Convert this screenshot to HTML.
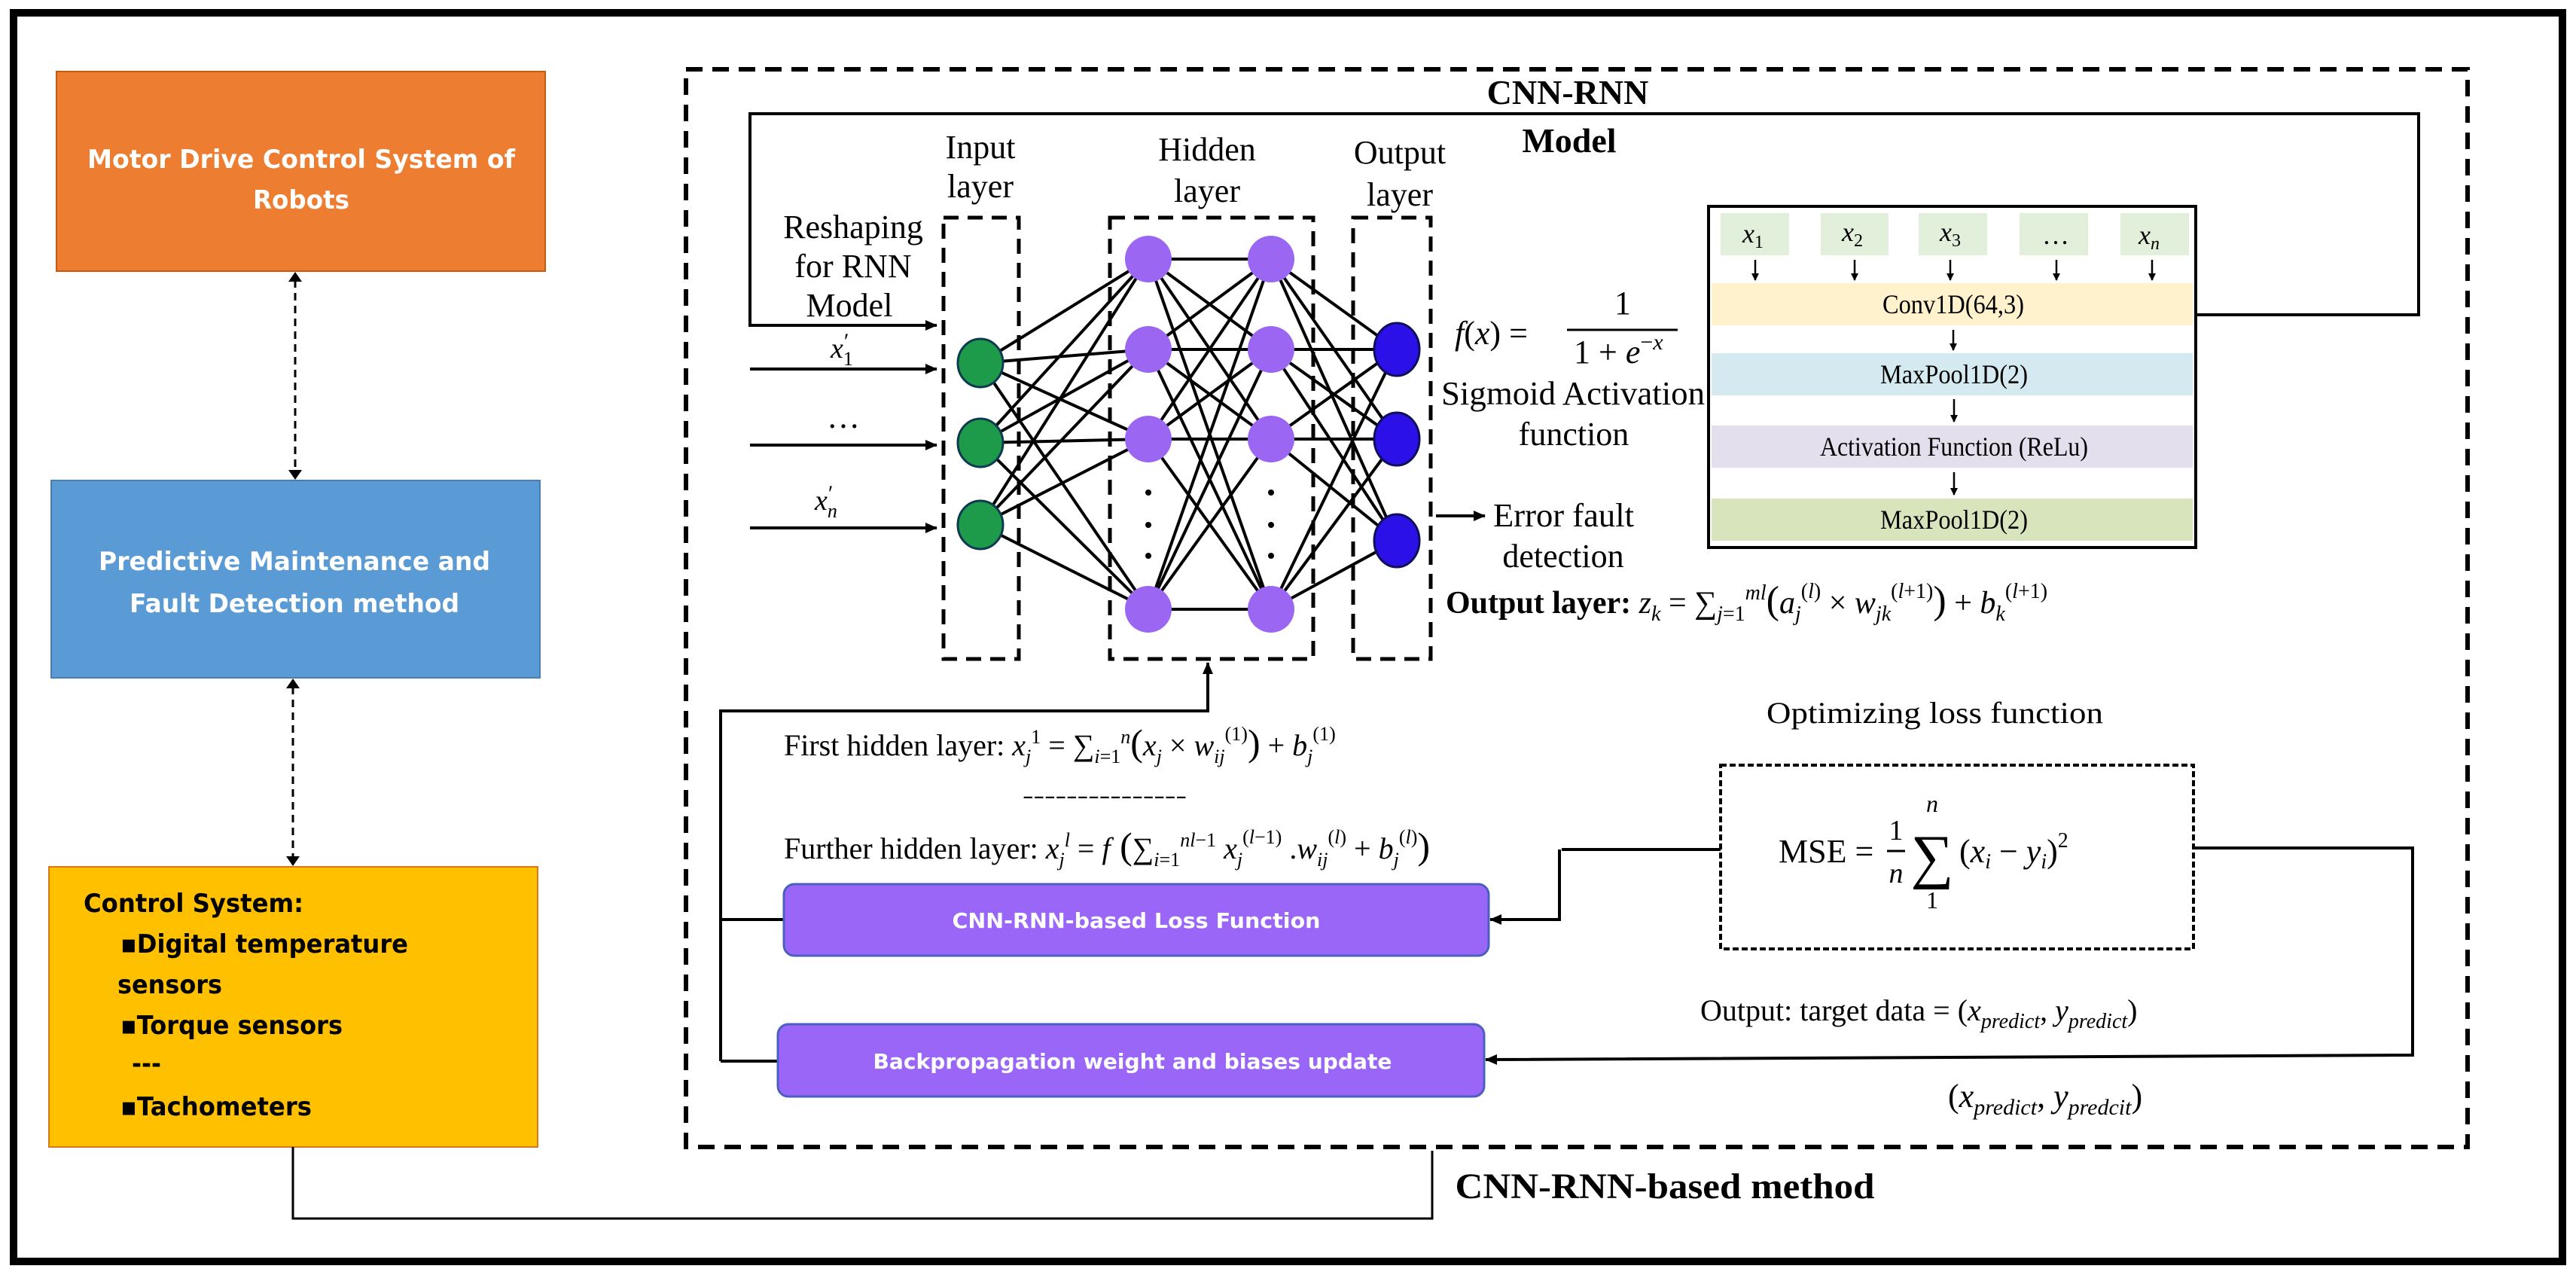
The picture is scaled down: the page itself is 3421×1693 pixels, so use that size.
<!DOCTYPE html>
<html><head><meta charset="utf-8"><style>
html,body{margin:0;padding:0;background:#fff;}
svg{display:block;}
.serif{font-family:"Liberation Serif",serif;}
.sans{font-family:"DejaVu Sans","Liberation Sans",sans-serif;font-weight:bold;}
</style></head><body>
<svg width="3421" height="1693" viewBox="0 0 3421 1693" xmlns="http://www.w3.org/2000/svg">
<defs>
<marker id="ar" markerWidth="10" markerHeight="10" refX="9" refY="5" orient="auto" markerUnits="userSpaceOnUse"><path d="M0,0 L10,5 L0,10 z" fill="#000"/></marker>
<marker id="arS" markerWidth="16" markerHeight="14" refX="15" refY="7" orient="auto" markerUnits="userSpaceOnUse"><path d="M0,0 L16,7 L0,14 z" fill="#000"/></marker>
</defs>
<rect x="0" y="0" width="3421" height="1693" fill="#fff"/>
<rect x="18" y="17" width="3385" height="1658" fill="none" stroke="#000" stroke-width="10"/>

<rect x="75" y="95" width="649" height="265" fill="#ED7D31" stroke="#c55a11" stroke-width="2"/>
<text class="sans" font-size="34" fill="#fff" text-anchor="middle" x="400" y="223" textLength="568" lengthAdjust="spacingAndGlyphs">Motor Drive Control System of</text>
<text class="sans" font-size="34" fill="#fff" text-anchor="middle" x="400" y="277" textLength="128" lengthAdjust="spacingAndGlyphs">Robots</text>

<rect x="68" y="638" width="649" height="262" fill="#5B9BD5" stroke="#4a7fb5" stroke-width="2"/>
<text class="sans" font-size="34" fill="#fff" text-anchor="middle" x="391" y="757" textLength="520" lengthAdjust="spacingAndGlyphs">Predictive Maintenance and</text>
<text class="sans" font-size="34" fill="#fff" text-anchor="middle" x="391" y="813" textLength="438" lengthAdjust="spacingAndGlyphs">Fault Detection method</text>

<rect x="65" y="1151" width="649" height="372" fill="#FFC000" stroke="#d87a1a" stroke-width="2"/>
<g class="sans" font-size="34" fill="#000">
<text x="111" y="1211" textLength="292" lengthAdjust="spacingAndGlyphs">Control System:</text>
<text x="160" y="1265" textLength="382" lengthAdjust="spacingAndGlyphs">▪Digital temperature</text>
<text x="156" y="1319" textLength="139" lengthAdjust="spacingAndGlyphs">sensors</text>
<text x="160" y="1373" textLength="295" lengthAdjust="spacingAndGlyphs">▪Torque sensors</text>
<text x="175" y="1424" textLength="39" lengthAdjust="spacingAndGlyphs">---</text>
<text x="160" y="1481" textLength="254" lengthAdjust="spacingAndGlyphs">▪Tachometers</text>
</g>

<line x1="392" y1="372" x2="392" y2="626" stroke="#000" stroke-width="3" stroke-dasharray="10,7"/>
<path d="M383,374 L392,361 L401,374 z" fill="#000"/>
<path d="M383,624 L392,637 L401,624 z" fill="#000"/>
<line x1="389" y1="912" x2="389" y2="1139" stroke="#000" stroke-width="3" stroke-dasharray="10,7"/>
<path d="M380,914 L389,901 L398,914 z" fill="#000"/>
<path d="M380,1137 L389,1150 L398,1137 z" fill="#000"/>

<polyline points="389,1523 389,1618 1902,1618 1902,1528" fill="none" stroke="#000" stroke-width="3"/>

<rect x="911" y="92" width="2366" height="1431" fill="none" stroke="#000" stroke-width="6" stroke-dasharray="22,13"/>

<g class="serif" font-weight="bold" fill="#000">
<text x="2082" y="138" font-size="46" text-anchor="middle">CNN-RNN</text>
<text x="2084" y="202" font-size="46" text-anchor="middle">Model</text>
<text x="2211" y="1591" font-size="48" text-anchor="middle" textLength="557" lengthAdjust="spacingAndGlyphs">CNN-RNN-based method</text>
</g>

<polyline points="2916,418 3212,418 3212,151 996,151 996,432 1244,432" fill="none" stroke="#000" stroke-width="4" marker-end="url(#arS)"/>

<line x1="996" y1="490" x2="1244" y2="490" stroke="#000" stroke-width="4" marker-end="url(#arS)"/>
<line x1="996" y1="591" x2="1244" y2="591" stroke="#000" stroke-width="4" marker-end="url(#arS)"/>
<line x1="996" y1="701" x2="1244" y2="701" stroke="#000" stroke-width="4" marker-end="url(#arS)"/>

<g class="serif" fill="#000" font-size="44" text-anchor="middle">
<text x="1133" y="316">Reshaping</text>
<text x="1133" y="368">for RNN</text>
<text x="1128" y="420">Model</text>
<text x="1302" y="210">Input</text>
<text x="1302" y="262">layer</text>
<text x="1603" y="213">Hidden</text>
<text x="1603" y="268">layer</text>
<text x="1859" y="217">Output</text>
<text x="1859" y="273">layer</text>
<text x="1120" y="568">…</text>
</g>
<g class="serif" fill="#000" font-size="38" font-style="italic">
<text x="1103" y="475">x<tspan font-size="26" dy="10" font-style="normal">1</tspan><tspan font-size="30" dx="-12" dy="-22" font-style="normal">′</tspan></text>
<text x="1082" y="677">x<tspan font-size="26" dy="10">n</tspan><tspan font-size="30" dx="-12" dy="-22" font-style="normal">′</tspan></text>
</g>

<g fill="none" stroke="#000" stroke-width="5" stroke-dasharray="20,12">
<rect x="1253" y="289" width="100" height="586"/>
<rect x="1474" y="289" width="270" height="586"/>
<rect x="1797" y="289" width="103" height="586"/>
</g>

<g stroke="#000" stroke-width="4">
<line x1="1302" y1="482" x2="1525" y2="344"/><line x1="1302" y1="482" x2="1525" y2="464"/><line x1="1302" y1="482" x2="1525" y2="583"/><line x1="1302" y1="482" x2="1525" y2="809"/>
<line x1="1302" y1="588" x2="1525" y2="344"/><line x1="1302" y1="588" x2="1525" y2="464"/><line x1="1302" y1="588" x2="1525" y2="583"/><line x1="1302" y1="588" x2="1525" y2="809"/>
<line x1="1302" y1="697" x2="1525" y2="344"/><line x1="1302" y1="697" x2="1525" y2="464"/><line x1="1302" y1="697" x2="1525" y2="583"/><line x1="1302" y1="697" x2="1525" y2="809"/>
<line x1="1525" y1="344" x2="1688" y2="344"/><line x1="1525" y1="344" x2="1688" y2="464"/><line x1="1525" y1="344" x2="1688" y2="583"/><line x1="1525" y1="344" x2="1688" y2="809"/>
<line x1="1525" y1="464" x2="1688" y2="344"/><line x1="1525" y1="464" x2="1688" y2="464"/><line x1="1525" y1="464" x2="1688" y2="583"/><line x1="1525" y1="464" x2="1688" y2="809"/>
<line x1="1525" y1="583" x2="1688" y2="344"/><line x1="1525" y1="583" x2="1688" y2="464"/><line x1="1525" y1="583" x2="1688" y2="583"/><line x1="1525" y1="583" x2="1688" y2="809"/>
<line x1="1525" y1="809" x2="1688" y2="344"/><line x1="1525" y1="809" x2="1688" y2="464"/><line x1="1525" y1="809" x2="1688" y2="583"/><line x1="1525" y1="809" x2="1688" y2="809"/>
<line x1="1688" y1="344" x2="1855" y2="464"/><line x1="1688" y1="344" x2="1855" y2="583"/><line x1="1688" y1="344" x2="1855" y2="718"/>
<line x1="1688" y1="464" x2="1855" y2="464"/><line x1="1688" y1="464" x2="1855" y2="583"/><line x1="1688" y1="464" x2="1855" y2="718"/>
<line x1="1688" y1="583" x2="1855" y2="464"/><line x1="1688" y1="583" x2="1855" y2="583"/><line x1="1688" y1="583" x2="1855" y2="718"/>
<line x1="1688" y1="809" x2="1855" y2="464"/><line x1="1688" y1="809" x2="1855" y2="583"/><line x1="1688" y1="809" x2="1855" y2="718"/>
</g>

<g fill="#1e9a4b" stroke="#0e3a50" stroke-width="3">
<ellipse cx="1302" cy="482" rx="30" ry="32"/><ellipse cx="1302" cy="588" rx="30" ry="32"/><ellipse cx="1302" cy="697" rx="30" ry="32"/>
</g>
<g fill="#9a66f2">
<circle cx="1525" cy="344" r="31"/><circle cx="1525" cy="464" r="31"/><circle cx="1525" cy="583" r="31"/><circle cx="1525" cy="809" r="31"/>
<circle cx="1688" cy="344" r="31"/><circle cx="1688" cy="464" r="31"/><circle cx="1688" cy="583" r="31"/><circle cx="1688" cy="809" r="31"/>
</g>
<g fill="#000">
<circle cx="1525" cy="654" r="4"/><circle cx="1525" cy="697" r="4"/><circle cx="1525" cy="738" r="4"/>
<circle cx="1688" cy="654" r="4"/><circle cx="1688" cy="697" r="4"/><circle cx="1688" cy="738" r="4"/>
</g>
<g fill="#2c10e8" stroke="#10105a" stroke-width="3">
<ellipse cx="1855" cy="464" rx="30" ry="35"/><ellipse cx="1855" cy="583" rx="30" ry="35"/><ellipse cx="1855" cy="718" rx="30" ry="35"/>
</g>

<g class="serif" fill="#000" font-size="44">
<text x="1932" y="457"><tspan font-style="italic">f</tspan>(<tspan font-style="italic">x</tspan>) =</text>
<text x="2155" y="417" text-anchor="middle">1</text>
<line x1="2081" y1="438" x2="2228" y2="438" stroke="#000" stroke-width="3"/>
<text x="2090" y="482">1 + <tspan font-style="italic">e</tspan><tspan font-size="30" dy="-18">−<tspan font-style="italic">x</tspan></tspan></text>
<text x="1914" y="537" textLength="350" lengthAdjust="spacingAndGlyphs">Sigmoid Activation</text>
<text x="2090" y="591" text-anchor="middle">function</text>
<text x="1983" y="699" textLength="187" lengthAdjust="spacingAndGlyphs">Error fault</text>
<text x="2076" y="753" text-anchor="middle">detection</text>
</g>
<line x1="1907" y1="685" x2="1972" y2="685" stroke="#000" stroke-width="4" marker-end="url(#arS)"/>

<text class="serif" x="1920" y="814" font-size="42" fill="#000"><tspan font-weight="bold">Output layer:</tspan> <tspan font-style="italic">z</tspan><tspan font-size="28" dy="10" font-style="italic">k</tspan><tspan dy="-10"> = ∑</tspan><tspan font-size="28" dy="10" font-style="italic">j</tspan><tspan font-size="28">=1</tspan><tspan font-size="28" dy="-28" font-style="italic">ml</tspan><tspan dy="18" font-size="52">(</tspan><tspan font-style="italic">a</tspan><tspan font-size="28" dy="10" font-style="italic">j</tspan><tspan font-size="28" dy="-30">(<tspan font-style="italic">l</tspan>)</tspan><tspan dy="20"> × </tspan><tspan font-style="italic">w</tspan><tspan font-size="28" dy="10" font-style="italic">jk</tspan><tspan font-size="28" dy="-30">(<tspan font-style="italic">l</tspan>+1)</tspan><tspan dy="20" font-size="52">)</tspan><tspan> +  </tspan><tspan font-style="italic">b</tspan><tspan font-size="28" dy="10" font-style="italic">k</tspan><tspan font-size="28" dy="-30">(<tspan font-style="italic">l</tspan>+1)</tspan></text>

<rect x="2269" y="274" width="647" height="453" fill="#fff" stroke="#000" stroke-width="4"/>
<g fill="#e2efda">
<rect x="2285" y="283" width="91" height="56"/><rect x="2418" y="283" width="90" height="56"/><rect x="2548" y="283" width="91" height="56"/><rect x="2682" y="283" width="91" height="56"/><rect x="2816" y="283" width="91" height="56"/>
</g>
<g class="serif" font-size="36" font-style="italic" fill="#000">
<text x="2314" y="322">x<tspan font-size="24" dy="7" font-style="normal">1</tspan></text>
<text x="2446" y="320">x<tspan font-size="24" dy="7" font-style="normal">2</tspan></text>
<text x="2576" y="320">x<tspan font-size="24" dy="7" font-style="normal">3</tspan></text>
<text x="2712" y="324" font-style="normal">…</text>
<text x="2840" y="324">x<tspan font-size="24" dy="7">n</tspan></text>
</g>
<g stroke="#000" stroke-width="2.5">
<line x1="2331" y1="345" x2="2331" y2="372" marker-end="url(#ar)"/>
<line x1="2463" y1="345" x2="2463" y2="372" marker-end="url(#ar)"/>
<line x1="2590" y1="345" x2="2590" y2="372" marker-end="url(#ar)"/>
<line x1="2731" y1="345" x2="2731" y2="372" marker-end="url(#ar)"/>
<line x1="2858" y1="345" x2="2858" y2="372" marker-end="url(#ar)"/>
<line x1="2594" y1="438" x2="2594" y2="465" marker-end="url(#ar)"/>
<line x1="2595" y1="530" x2="2595" y2="560" marker-end="url(#ar)"/>
<line x1="2595" y1="627" x2="2595" y2="657" marker-end="url(#ar)"/>
</g>
<rect x="2273" y="376" width="639" height="56" fill="#fff2cc"/>
<rect x="2273" y="469" width="639" height="56" fill="#d5e9f0"/>
<rect x="2273" y="565" width="639" height="56" fill="#e4dfec"/>
<rect x="2273" y="662" width="639" height="56" fill="#d8e4bc"/>
<g class="serif" font-size="36" fill="#000" text-anchor="middle">
<text x="2594" y="416" textLength="188" lengthAdjust="spacingAndGlyphs">Conv1D(64,3)</text>
<text x="2595" y="509" textLength="196" lengthAdjust="spacingAndGlyphs">MaxPool1D(2)</text>
<text x="2595" y="605" textLength="356" lengthAdjust="spacingAndGlyphs">Activation Function (ReLu)</text>
<text x="2595" y="702" textLength="196" lengthAdjust="spacingAndGlyphs">MaxPool1D(2)</text>
</g>

<polyline points="957,1409 957,944 1604,944 1604,880" fill="none" stroke="#000" stroke-width="4" marker-end="url(#arS)"/>
<line x1="957" y1="1221" x2="1041" y2="1221" stroke="#000" stroke-width="4"/>
<line x1="957" y1="1409" x2="1033" y2="1409" stroke="#000" stroke-width="4"/>

<g class="serif" fill="#000" font-size="40">
<text x="1041" y="1003">First hidden layer: <tspan font-style="italic">x</tspan><tspan font-size="26" dy="10" font-style="italic">j</tspan><tspan font-size="26" dy="-26">1</tspan><tspan dy="16"> = ∑</tspan><tspan font-size="26" dy="10" font-style="italic">i</tspan><tspan font-size="26">=1</tspan><tspan font-size="26" dy="-26" font-style="italic">n</tspan><tspan dy="16" font-size="50">(</tspan><tspan font-style="italic">x</tspan><tspan font-size="26" dy="10" font-style="italic">j</tspan><tspan dy="-10"> × </tspan><tspan font-style="italic">w</tspan><tspan font-size="26" dy="10" font-style="italic">ij</tspan><tspan font-size="26" dy="-30">(1)</tspan><tspan dy="20" font-size="50">)</tspan><tspan> + </tspan><tspan font-style="italic">b</tspan><tspan font-size="26" dy="10" font-style="italic">j</tspan><tspan font-size="26" dy="-30">(1)</tspan></text>
<text x="1358" y="1066" font-size="30" textLength="218" lengthAdjust="spacingAndGlyphs">---------------</text>
<text x="1041" y="1140">Further hidden layer: <tspan font-style="italic">x</tspan><tspan font-size="26" dy="10" font-style="italic">j</tspan><tspan font-size="26" dy="-26" font-style="italic">l</tspan><tspan dy="16"> = </tspan><tspan font-style="italic">f</tspan><tspan font-size="50"> (</tspan><tspan>∑</tspan><tspan font-size="26" dy="10" font-style="italic">i</tspan><tspan font-size="26">=1</tspan><tspan font-size="26" dy="-26" font-style="italic">nl</tspan><tspan font-size="26">−1</tspan><tspan dy="16"> </tspan><tspan font-style="italic">x</tspan><tspan font-size="26" dy="10" font-style="italic">j</tspan><tspan font-size="26" dy="-30">(<tspan font-style="italic">l</tspan>−1)</tspan><tspan dy="20"> .</tspan><tspan font-style="italic">w</tspan><tspan font-size="26" dy="10" font-style="italic">ij</tspan><tspan font-size="26" dy="-30">(<tspan font-style="italic">l</tspan>)</tspan><tspan dy="20"> + </tspan><tspan font-style="italic">b</tspan><tspan font-size="26" dy="10" font-style="italic">j</tspan><tspan font-size="26" dy="-30">(<tspan font-style="italic">l</tspan>)</tspan><tspan dy="20" font-size="50">)</tspan></text>
<text x="2346" y="960" textLength="447" lengthAdjust="spacingAndGlyphs">Optimizing loss function</text>
<text x="2258" y="1355">Output: target data = (<tspan font-style="italic">x</tspan><tspan font-size="28" dy="10" font-style="italic">predict</tspan><tspan dy="-10">, </tspan><tspan font-style="italic">y</tspan><tspan font-size="28" dy="10" font-style="italic">predict</tspan><tspan dy="-10">)</tspan></text>
<text x="2587" y="1470" font-size="44">(<tspan font-style="italic">x</tspan><tspan font-size="30" dy="10" font-style="italic">predict</tspan><tspan dy="-10">, </tspan><tspan font-style="italic">y</tspan><tspan font-size="30" dy="10" font-style="italic">predcit</tspan><tspan dy="-10">)</tspan></text>
</g>

<line x1="2074" y1="1128" x2="2285" y2="1128" stroke="#000" stroke-width="4"/>
<polyline points="2071,1128 2071,1221 1979,1221" fill="none" stroke="#000" stroke-width="4" marker-end="url(#arS)"/>
<polyline points="2913,1126 3204,1126 3204,1401 1973,1407" fill="none" stroke="#000" stroke-width="4" marker-end="url(#arS)"/>

<rect x="1041" y="1174" width="936" height="95" rx="14" fill="#9a66f7" stroke="#4a5fc0" stroke-width="3"/>
<text class="sans" x="1509" y="1232" font-size="28" fill="#fff" text-anchor="middle" textLength="489" lengthAdjust="spacingAndGlyphs">CNN-RNN-based Loss Function</text>
<rect x="1033" y="1360" width="938" height="96" rx="14" fill="#9a66f7" stroke="#4a5fc0" stroke-width="3"/>
<text class="sans" x="1504" y="1419" font-size="28" fill="#fff" text-anchor="middle" textLength="689" lengthAdjust="spacingAndGlyphs">Backpropagation weight and biases update</text>

<rect x="2285" y="1016" width="628" height="244" fill="none" stroke="#000" stroke-width="4" stroke-dasharray="8,4"/>
<g class="serif" fill="#000" font-size="44">
<text x="2362" y="1145">MSE =</text>
<text x="2518" y="1115" text-anchor="middle" font-size="38">1</text>
<line x1="2506" y1="1130" x2="2530" y2="1130" stroke="#000" stroke-width="3"/>
<text x="2518" y="1172" text-anchor="middle" font-size="38" font-style="italic">n</text>
<text x="2566" y="1078" text-anchor="middle" font-size="32" font-style="italic">n</text>
<text x="2566" y="1164" text-anchor="middle" font-size="80">∑</text>
<text x="2566" y="1206" text-anchor="middle" font-size="32">1</text>
<text x="2602" y="1145">(<tspan font-style="italic">x</tspan><tspan font-size="28" dy="8" font-style="italic">i</tspan><tspan dy="-8"> − </tspan><tspan font-style="italic">y</tspan><tspan font-size="28" dy="8" font-style="italic">i</tspan><tspan dy="-8">)</tspan><tspan font-size="28" dy="-20">2</tspan></text>
</g>
</svg>
</body></html>
